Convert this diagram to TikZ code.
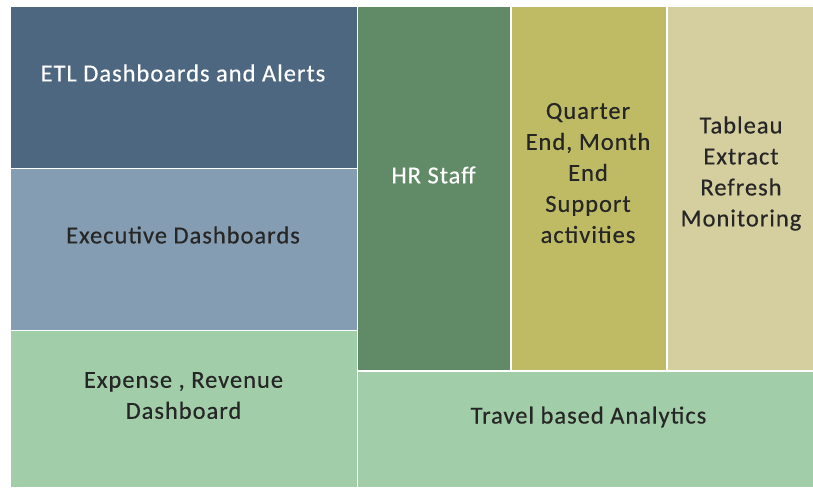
\documentclass[tikz,border=0pt]{standalone}
\usepackage{fontspec}
\setmainfont{Carlito}[LetterSpace=4,FakeBold=0.4]
\definecolor{cETL}{HTML}{4E6780}
\definecolor{cExe}{HTML}{859DB2}
\definecolor{cGrn}{HTML}{A1CDA8}
\definecolor{cHR}{HTML}{618A66}
\definecolor{cQtr}{HTML}{BFBB64}
\definecolor{cTab}{HTML}{D5CE9F}
\definecolor{cTxt}{HTML}{262626}
\begin{document}
\begin{tikzpicture}[x=1pt,y=-1pt,
  lbl/.style={font=\fontsize{24.5}{31}\selectfont,align=center,text=cTxt,inner sep=0pt},
  wlbl/.style={lbl,text=white}]
\fill[white] (0,0) rectangle (813,487);
\useasboundingbox (0,0) rectangle (813,487);
% cells
\fill[cETL] (11,7) rectangle (356.5,167.5);
\fill[cExe] (11,169) rectangle (356.5,329.5);
\fill[cGrn] (11,331) rectangle (356.5,487);
\fill[cHR]  (358,7) rectangle (510,369.5);
\fill[cQtr] (512,7) rectangle (666,370);
\fill[cTab] (668,7) rectangle (813,370);
\fill[cGrn] (358,371.5) rectangle (813,487);
% labels
\node[wlbl] (etl) at (183,73) {ETL Dashboards and Alerts};
\node[lbl] (exe) at (183,235) {Executive Dashboards};
\node[lbl] (exp) at (183.5,395.5) {Expense , Revenue\\Dashboard};
\node[wlbl] (hr) at (433.5,175) {HR Staff};
\node[lbl] (qtr) at (588,173) {Quarter\\End, Month\\End\\Support\\activities};
\node[lbl] (tab) at (741,173.5) {Tableau\\Extract\\Refresh\\Monitoring};
\node[lbl] (trv) at (588.5,417) {Travel based Analytics};
\end{tikzpicture}
\end{document}
